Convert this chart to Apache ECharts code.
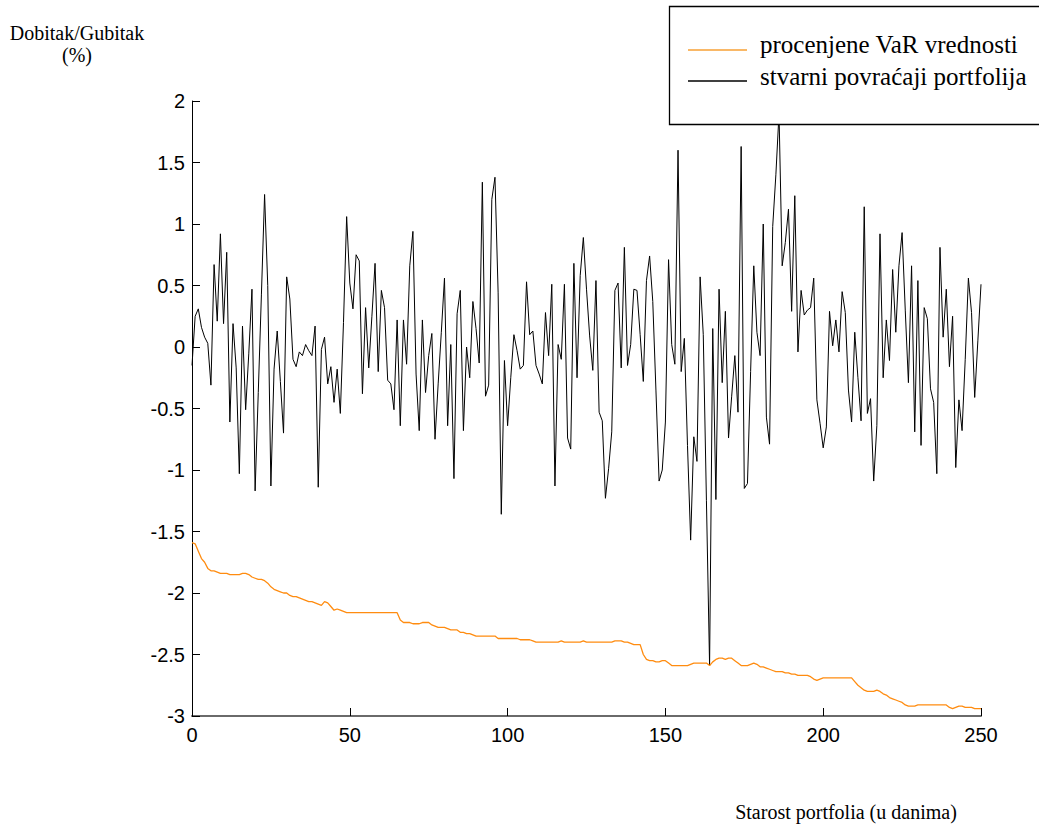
<!DOCTYPE html>
<html><head><meta charset="utf-8">
<script src="https://cdn.jsdelivr.net/npm/echarts@6/dist/echarts.min.js"></script>
<style>html,body{margin:0;padding:0;background:#fff}#c{width:1039px;height:827px}</style>
</head><body><div id="c"></div>
<script>
// stvarni povracaji portfolija (%), day 0..250
const stvarniPovracaji = [
-0.15,0.25,0.31,0.16,0.08,0.03,-0.31,0.67,0.21,0.92,
0.19,0.77,-0.61,0.19,-0.17,-1.03,0.17,-0.51,-0.05,0.47,
-1.17,-0.37,0.43,1.24,0.50,-1.13,-0.18,0.13,-0.28,-0.70,
0.57,0.39,-0.10,-0.16,-0.04,-0.07,0.02,-0.03,-0.07,0.17,
-1.14,-0.02,0.08,-0.30,-0.16,-0.45,-0.18,-0.54,0.20,1.06,
0.52,0.31,0.75,0.70,-0.38,0.32,-0.17,0.25,0.68,-0.20,
0.46,0.32,-0.27,-0.30,-0.51,0.22,-0.64,0.22,-0.14,0.66,
0.94,-0.22,-0.68,0.22,-0.37,-0.07,0.11,-0.75,-0.30,0.12,
0.56,-0.64,0.02,-1.07,0.27,0.46,-0.68,0.00,-0.25,0.37,
0.15,-0.13,1.34,-0.40,-0.31,1.20,1.38,0.44,-1.36,-0.11,
-0.64,-0.25,0.10,-0.03,-0.18,-0.15,0.53,0.10,0.13,-0.15,
-0.22,-0.30,0.28,-0.07,0.51,-1.13,0.02,-0.10,0.51,-0.74,
-0.83,0.68,-0.25,0.58,0.89,0.47,0.09,-0.19,0.54,-0.53,
-0.60,-1.23,-0.99,-0.69,0.46,0.52,-0.17,0.81,-0.15,0.02,
0.47,0.46,0.10,-0.28,0.54,0.74,0.37,-0.35,-1.09,-1.00,
-0.61,0.71,0.02,-0.14,1.60,-0.20,0.07,-0.80,-1.57,-0.73,
-0.93,0.57,0.10,-1.25,-2.59,0.15,-1.24,0.47,-0.29,0.29,
-0.74,-0.40,-0.07,-0.53,1.63,-1.15,-1.11,-0.20,0.66,0.12,
-0.07,1.00,-0.57,-0.79,0.98,1.40,1.90,0.66,0.85,1.12,
0.29,1.23,-0.04,0.46,0.26,0.30,0.32,0.56,-0.43,-0.62,
-0.82,-0.65,0.29,0.01,0.22,-0.04,0.45,0.28,-0.35,-0.61,
0.12,-0.25,-0.60,1.14,-0.54,-0.42,-1.09,-0.64,0.92,-0.25,
0.22,-0.11,0.63,0.12,0.66,0.93,0.30,-0.29,0.66,-0.69,
0.54,-0.80,0.32,0.23,-0.34,-0.45,-1.03,0.81,0.08,0.47,
-0.16,0.25,-0.98,-0.43,-0.68,-0.10,0.56,0.28,-0.41,0.05,
0.51
];
// procenjene VaR vrednosti (%), day 0..250
const procenjeniVaR = [
-1.59,-1.60,-1.66,-1.72,-1.75,-1.80,-1.82,-1.82,-1.83,-1.84,
-1.84,-1.84,-1.85,-1.85,-1.85,-1.85,-1.84,-1.84,-1.85,-1.87,
-1.88,-1.89,-1.89,-1.90,-1.92,-1.95,-1.97,-1.98,-1.99,-2.00,
-2.00,-2.02,-2.03,-2.03,-2.04,-2.05,-2.06,-2.07,-2.07,-2.08,
-2.09,-2.10,-2.07,-2.08,-2.11,-2.14,-2.13,-2.14,-2.15,-2.16,
-2.16,-2.16,-2.16,-2.16,-2.16,-2.16,-2.16,-2.16,-2.16,-2.16,
-2.16,-2.16,-2.16,-2.16,-2.16,-2.16,-2.22,-2.24,-2.24,-2.24,
-2.25,-2.25,-2.25,-2.24,-2.24,-2.24,-2.26,-2.27,-2.28,-2.28,
-2.28,-2.29,-2.30,-2.30,-2.30,-2.32,-2.32,-2.33,-2.33,-2.34,
-2.35,-2.35,-2.35,-2.35,-2.35,-2.35,-2.35,-2.37,-2.37,-2.37,
-2.37,-2.37,-2.37,-2.37,-2.38,-2.38,-2.38,-2.38,-2.39,-2.40,
-2.40,-2.40,-2.40,-2.40,-2.40,-2.40,-2.40,-2.39,-2.40,-2.40,
-2.40,-2.40,-2.40,-2.40,-2.39,-2.40,-2.40,-2.40,-2.40,-2.40,
-2.40,-2.40,-2.40,-2.40,-2.39,-2.39,-2.39,-2.40,-2.40,-2.41,
-2.42,-2.42,-2.42,-2.50,-2.54,-2.55,-2.55,-2.56,-2.56,-2.55,
-2.55,-2.57,-2.59,-2.59,-2.59,-2.59,-2.59,-2.59,-2.58,-2.57,
-2.57,-2.57,-2.57,-2.57,-2.59,-2.56,-2.54,-2.53,-2.53,-2.54,
-2.53,-2.53,-2.55,-2.57,-2.59,-2.59,-2.59,-2.58,-2.57,-2.58,
-2.60,-2.60,-2.61,-2.62,-2.63,-2.64,-2.64,-2.64,-2.65,-2.65,
-2.66,-2.66,-2.67,-2.67,-2.67,-2.67,-2.68,-2.70,-2.71,-2.70,
-2.69,-2.69,-2.69,-2.69,-2.69,-2.69,-2.69,-2.69,-2.69,-2.69,
-2.72,-2.75,-2.77,-2.79,-2.80,-2.80,-2.80,-2.79,-2.80,-2.82,
-2.83,-2.85,-2.86,-2.87,-2.88,-2.89,-2.91,-2.92,-2.92,-2.92,
-2.91,-2.91,-2.91,-2.91,-2.91,-2.91,-2.91,-2.91,-2.91,-2.91,
-2.93,-2.94,-2.93,-2.92,-2.92,-2.93,-2.93,-2.93,-2.94,-2.94,
-2.94
];
const seriesNames = ['procenjene VaR vrednosti', 'stvarni povraćaji portfolija'];
const yAxisTitle = 'Dobitak/Gubitak\n(%)';
const xAxisTitle = 'Starost portfolia (u danima)';

const toPairs = arr => arr.map((v, i) => [i, v]);

const chart = echarts.init(document.getElementById('c'), null, {renderer: 'svg'});
chart.setOption({
  animation: false,
  backgroundColor: '#fff',
  grid: {left: 192, right: 58, top: 101, bottom: 106, containLabel: false},
  xAxis: {
    type: 'value', min: 0, max: 250, interval: 50,
    name: xAxisTitle, nameLocation: 'middle', nameGap: 86,
    nameTextStyle: {fontFamily: 'Liberation Serif', fontSize: 20, color: '#000', align: 'center', padding: [0, 0, 0, 519]},
    axisLine: {show: true, onZero: false, lineStyle: {color: '#6a6a6a', width: 2}},
    axisTick: {show: true, inside: true, length: 8, lineStyle: {color: '#000', width: 1}},
    axisLabel: {color: '#000', fontSize: 20, fontFamily: 'Liberation Sans', margin: 9},
    splitLine: {show: false}
  },
  yAxis: {
    type: 'value', min: -3, max: 2, interval: 0.5,
    name: yAxisTitle, nameLocation: 'end', nameGap: 35,
    nameTextStyle: {fontFamily: 'Liberation Serif', fontSize: 20, color: '#000', align: 'center', lineHeight: 22, padding: [0, 230, 0, 0]},
    axisLine: {show: true, onZero: false, lineStyle: {color: '#000', width: 1}},
    axisTick: {show: true, inside: true, length: 8, lineStyle: {color: '#000', width: 1}},
    axisLabel: {color: '#000', fontSize: 20, fontFamily: 'Liberation Sans', margin: 7},
    splitLine: {show: false}
  },
  graphic: [
    {type: 'rect', z: 100, shape: {x: 669.5, y: 6.5, width: 420, height: 118},
      style: {fill: '#fff', stroke: '#000', lineWidth: 1.3}},
    {type: 'line', z: 101, shape: {x1: 688, y1: 50, x2: 747, y2: 50},
      style: {stroke: '#f7a035', lineWidth: 1.5}},
    {type: 'text', z: 101, x: 760, y: 44,
      style: {text: seriesNames[0], font: '25px "Liberation Serif"', fill: '#000', verticalAlign: 'middle'}},
    {type: 'line', z: 101, shape: {x1: 688, y1: 81, x2: 747, y2: 81},
      style: {stroke: '#000', lineWidth: 1.5}},
    {type: 'text', z: 101, x: 760, y: 76,
      style: {text: seriesNames[1], font: '25px "Liberation Serif"', fill: '#000', verticalAlign: 'middle'}}
  ],
  series: [
    {name: seriesNames[0], type: 'line', data: toPairs(procenjeniVaR), showSymbol: false,
      lineStyle: {color: '#ff8c10', width: 1.3}, itemStyle: {color: '#ff8c10'}, z: 3},
    {name: seriesNames[1], type: 'line', data: toPairs(stvarniPovracaji), showSymbol: false,
      lineStyle: {color: '#000', width: 1}, itemStyle: {color: '#000'}, z: 2}
  ]
});
</script></body></html>
